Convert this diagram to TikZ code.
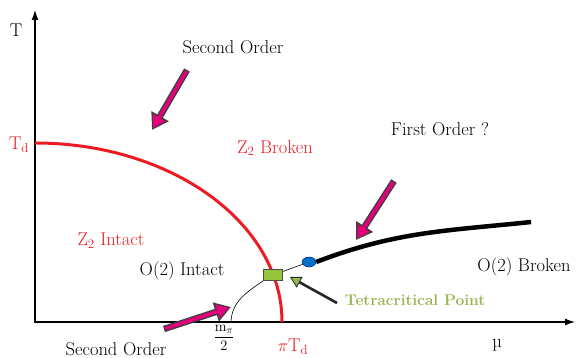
\documentclass[tikz,border=0pt]{standalone}
\usepackage{amsmath,amssymb}
\usepackage{xcolor}
\usepackage{tikz}
\usetikzlibrary{arrows.meta,positioning,shapes.geometric}
\definecolor{phred}{RGB}{237,28,36}
\definecolor{magcol}{RGB}{228,0,124}
\definecolor{rectgreen}{RGB}{150,196,60}
\definecolor{tetragreen}{RGB}{150,182,80}
\definecolor{dotblue}{RGB}{0,112,196}

\begin{document}
\begin{tikzpicture}[x=1pt,y=1pt,font=\fontsize{18.5}{22}\selectfont,
  redlbl/.style={text=phred},
  magarrow/.style={draw=black!75,line width=6.5pt,-{Triangle[length=16pt,width=19pt]},
    postaction={draw=magcol,line width=3.6pt,-{Triangle[length=12pt,width=13.5pt]},shorten >=2.2pt,shorten <=1.4pt}}]
  \useasboundingbox (-35,-36) rectangle (541,322);
  % axes
  \coordinate (o) at (0,0);
  \coordinate (ytop) at (0,312);
  \coordinate (xend) at (540,0);
  \draw[line width=1.3pt,{Latex[length=10pt,width=7pt]}-{Latex[length=10pt,width=7pt]}] (ytop) -- (o) -- (xend);
  \node (Tlbl) at (-19,292) {T};
  \node (mulbl) at (462,-23) {µ};
  % red phase boundary
  \draw[phred,line width=3pt] (0,179) coordinate (td) arc[start angle=90,end angle=0,x radius=247,y radius=179] coordinate (pitd);
  \node[redlbl] (Tdlbl) at (-16,177) {T\textsubscript{d}};
  \node[redlbl] (pitdlbl) at (258,-25) {$\pi$T\textsubscript{d}};
  \node[font=\fontsize{14}{16}\selectfont] (mpilbl) at (189,-16) {$\dfrac{\mathrm{m}_\pi}{2}$};
  % points on the lines
  \node[draw=black!70,fill=rectgreen,minimum width=19pt,minimum height=11pt,inner sep=0pt] (tcp) at (238,47) {};
  \node[ellipse,draw=blue!50!black,fill=dotblue,minimum width=14pt,minimum height=10pt,inner sep=0pt] (fop) at (274,60) {};
  \coordinate (mpi) at (196,0);
  \coordinate (foend) at (496,100);
  \draw[line width=0.6pt] (mpi) to[out=88,in=215] (tcp.south west);
  \draw[line width=0.6pt] (tcp) -- (fop);
  \draw[line width=4.5pt] (fop.east) to[out=21,in=186] (foend);
  % region labels
  \node[redlbl] (z2broken) at (240,174) {Z\textsubscript{2} Broken};
  \node[redlbl] (z2intact) at (76,81) {Z\textsubscript{2} Intact};
  \node (o2intact) at (147,51) {O(2) Intact};
  \node (o2broken) at (489,55) {O(2) Broken};
  \node (sotop) at (198,275) {Second Order};
  \node (sobot) at (81,-27) {Second Order};
  \node (folbl) at (405,193) {First Order ?};
  \node[text=tetragreen,font=\fontsize{15.5}{19}\selectfont\bfseries] (tcplbl) at (380,22) {Tetracritical Point};
  % arrows
  \coordinate (a1s) at (152,252); \coordinate (a1e) at (117,192);
  \coordinate (a2s) at (359,141); \coordinate (a2e) at (321,82);
  \coordinate (a3s) at (129,-7);  \coordinate (a3e) at (196,15);
  \coordinate (a4s) at (302,19);  \coordinate (a4e) at (255,45);
  \draw[magarrow] (a1s) -- (a1e);
  \draw[magarrow] (a2s) -- (a2e);
  \draw[magarrow] (a3s) -- (a3e);
  \draw[line width=2.6pt,black!85,-{Triangle[length=11pt,width=12pt,fill=tetragreen,line width=0.8pt]}] (a4s) -- (a4e);
\end{tikzpicture}
\end{document}
